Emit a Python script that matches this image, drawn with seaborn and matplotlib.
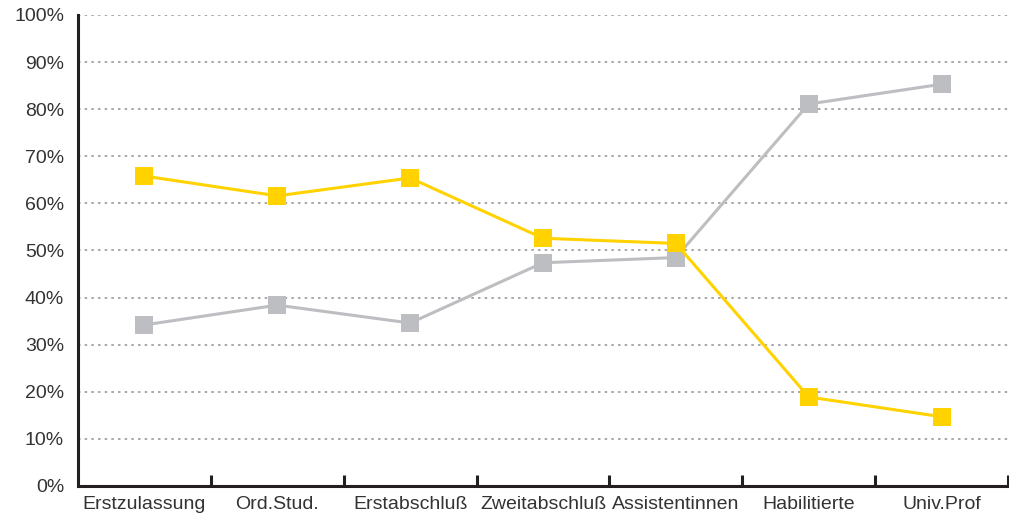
import numpy as np
import pandas as pd
import matplotlib
matplotlib.use("Agg")
import matplotlib.pyplot as plt
import seaborn as sns

categories = ["Erstzulassung", "Ord.Stud.", "Erstabschluß", "Zweitabschluß",
              "Assistentinnen", "Habilitierte", "Univ.Prof"]
frauen = [65.8, 61.6, 65.4, 52.6, 51.5, 18.9, 14.7]
maenner = [34.2, 38.4, 34.6, 47.4, 48.5, 81.1, 85.3]

yellow = "#FFD200"
grey = "#BDBEC1"
text_col = "#333333"

sns.set_theme(style="white")
plt.rcParams['font.family'] = ['Liberation Sans', 'DejaVu Sans']

fig = plt.figure(figsize=(10.09, 5.19), dpi=100)
ax = fig.add_axes([0.0773, 0.0636, 0.9217, 0.9075])

x = np.arange(len(categories))
df = pd.DataFrame({"x": np.concatenate([x, x]),
                   "wert": maenner + frauen,
                   "gruppe": ["m"] * len(x) + ["f"] * len(x)})

sns.lineplot(data=df, x="x", y="wert", hue="gruppe", hue_order=["m", "f"],
             palette=[grey, yellow], marker="s", markersize=13.5,
             markeredgewidth=0, linewidth=2.2, legend=False, ax=ax, zorder=3)

ax.set_xlim(-0.5, len(categories) - 0.5)
ax.set_ylim(0, 100)
ax.set_yticks(np.arange(0, 101, 10))
ax.set_yticklabels([f"{v}%" for v in range(0, 101, 10)])
ax.set_xticks(x)
ax.set_xticklabels(categories)
ax.set_xticks(np.arange(0.5, len(categories), 1), minor=True)
ax.set_xlabel("")
ax.set_ylabel("")

ax.yaxis.grid(True, color="#999999", linestyle=(0, (1.5, 2.5)), linewidth=1.2)
ax.xaxis.grid(False)
ax.set_axisbelow(True)

for s in ["top", "right"]:
    ax.spines[s].set_visible(False)
for s in ["left", "bottom"]:
    ax.spines[s].set_color("#231f20")
    ax.spines[s].set_linewidth(2.2)

ax.tick_params(axis="x", which="major", length=0, pad=7, labelsize=14, labelcolor=text_col)
ax.tick_params(axis="x", which="minor", direction="in", length=8, width=2.2, color="#231f20", bottom=True)
ax.tick_params(axis="y", length=0, pad=10, labelsize=14, labelcolor=text_col)
for lab in ax.get_yticklabels():
    lab.set_clip_on(False)

fig.savefig("out.png", dpi=100)
